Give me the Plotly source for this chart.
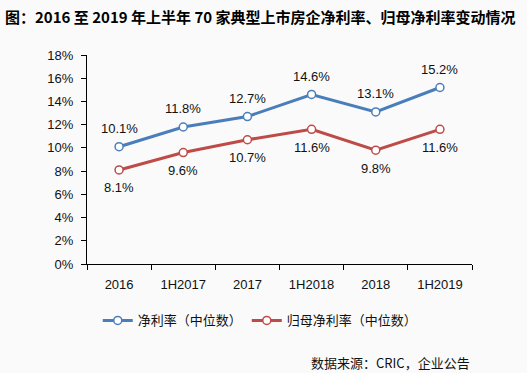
import plotly.graph_objects as go

categories = ["2016", "1H2017", "2017", "1H2018", "2018", "1H2019"]
net_margin = [10.1, 11.8, 12.7, 14.6, 13.1, 15.2]
parent_net_margin = [8.1, 9.6, 10.7, 11.6, 9.8, 11.6]
series_names = ["净利率（中位数）", "归母净利率（中位数）"]
y_ticks = [0, 2, 4, 6, 8, 10, 12, 14, 16, 18]
title_text = "图：2016 至 2019 年上半年 70 家典型上市房企净利率、归母净利率变动情况"
source_text = "数据来源：CRIC，企业公告"

BLUE = "#4A7EBB"
RED = "#BE4B48"
LAT = "Liberation Sans, Arial, sans-serif"
CJK = "Noto Sans CJK SC, sans-serif"

fig = go.Figure()
for vals, name, color, shift in [(net_margin, series_names[0], BLUE, 18),
                                 (parent_net_margin, series_names[1], RED, -18)]:
    fig.add_trace(go.Scatter(
        x=categories, y=vals, name=name,
        mode="lines+markers",
        line=dict(color=color, width=3),
        marker=dict(symbol="circle", size=8, color="white", line=dict(color=color, width=1.5)),
        cliponaxis=False,
    ))
    for i, v in enumerate(vals):
        fig.add_annotation(x=i, y=v, text=f"{v:.1f}%", showarrow=False,
                           yshift=shift, xanchor="center", yanchor="middle",
                           font=dict(family=LAT, size=13, color="#111"))

fig.update_layout(
    width=527, height=373,
    margin=dict(l=87, r=55, t=55, b=109, autoexpand=False),
    paper_bgcolor="#fafafa", plot_bgcolor="#fafafa",
    showlegend=True,
    legend=dict(orientation="h", x=0.45, y=-0.27, xanchor="center", yanchor="middle",
                font=dict(family=CJK, size=13, color="#111"), bgcolor="rgba(0,0,0,0)"),
)
fig.add_annotation(text=title_text, xref="paper", yref="paper", x=-0.218, y=1.185,
                   xanchor="left", yanchor="middle", showarrow=False,
                   font=dict(family=CJK, size=15, color="#000", weight="bold"))
fig.add_annotation(text=source_text, xref="paper", yref="paper", x=1.0, y=-0.47,
                   xanchor="right", yanchor="middle", showarrow=False,
                   font=dict(family=CJK, size=13, color="#111"))
fig.update_xaxes(type="category", categoryorder="array", categoryarray=categories,
                 range=[-0.5, len(categories) - 0.5],
                 showline=True, linecolor="#000", linewidth=1,
                 ticks="outside", tickson="boundaries", ticklen=5, tickcolor="#000",
                 showgrid=False, ticklabelstandoff=8, tickangle=0,
                 tickfont=dict(family=LAT, size=13, color="#111"))
fig.update_yaxes(range=[0, 18], tickvals=y_ticks, ticktext=[f"{v}%" for v in y_ticks],
                 showline=True, linecolor="#000", linewidth=1, ticks="outside",
                 ticklen=5, tickcolor="#000", showgrid=False, zeroline=False,
                 ticklabelstandoff=5,
                 tickfont=dict(family=LAT, size=13, color="#111"))

fig.write_html("out.html", config={"displayModeBar": False},
               post_script="document.body.style.margin='0';document.body.style.padding='0';")
